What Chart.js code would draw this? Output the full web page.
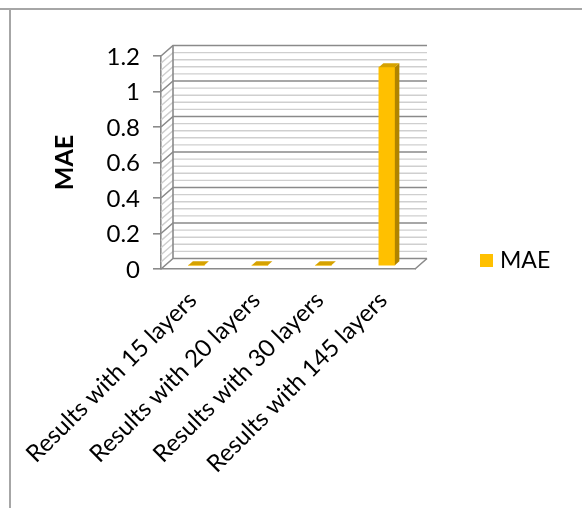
<!DOCTYPE html>
<html>
<head>
<meta charset="utf-8">
<script src="https://cdn.jsdelivr.net/npm/chart.js@4"></script>
<style>
  html, body { margin: 0; padding: 0; background: #ffffff; }
  #wrap { position: relative; width: 582px; height: 508px; }
</style>
</head>
<body>
<div id="wrap"><canvas id="chart" width="582" height="508"></canvas></div>
<script>
// Mean absolute error for each network depth
const categories = [
  'Results with 15 layers',
  'Results with 20 layers',
  'Results with 30 layers',
  'Results with 145 layers'
];
const maeValues = [0.004, 0.004, 0.004, 1.12];
const seriesLabel = 'MAE';
const yAxisTitle = 'MAE';
const yMin = 0;
const yMax = 1.2;
const yMajorStep = 0.2;
const yMinorStep = 0.04;

const FONT = "Lato, 'Liberation Sans', sans-serif";
const GOLD = '#FFC000';
const GOLD_TOP = '#D6A200';
const GOLD_SIDE = '#B08400';

// depth of the walls and of the columns (pseudo 3-D)
const WALL_DX = 12, WALL_DY = -10.5;
const COL_DX = 4.5, COL_DY = -4;
const COL_SHIFT_X = 3.6, COL_SHIFT_Y = -3;

// outer frame of the chart object
const framePlugin = {
  id: 'frame',
  beforeDraw(chart) {
    const ctx = chart.ctx;
    ctx.save();
    ctx.strokeStyle = '#a6a6a6';
    ctx.lineWidth = 2;
    ctx.beginPath();
    ctx.moveTo(0, 9); ctx.lineTo(chart.width, 9);
    ctx.moveTo(10, 9); ctx.lineTo(10, chart.height);
    ctx.stroke();
    ctx.restore();
  }
};

// back wall, side wall and floor with major / minor gridlines
const wallsPlugin = {
  id: 'walls',
  beforeDatasetsDraw(chart) {
    const ctx = chart.ctx;
    const { left, right, top, bottom } = chart.chartArea;
    const y = chart.scales.y;
    ctx.save();
    const nMinor = Math.round((yMax - yMin) / yMinorStep);
    const perMajor = Math.round(yMajorStep / yMinorStep);
    // minor lines first, major lines on top
    for (let pass = 0; pass < 2; pass++) {
      for (let i = 0; i <= nMinor; i++) {
        const isMajor = i % perMajor === 0;
        if ((pass === 1) !== isMajor) continue;
        const v = yMin + i * yMinorStep;
        const py = y.getPixelForValue(v);
        ctx.strokeStyle = isMajor ? '#8a8a8a' : '#cfcfcf';
        ctx.lineWidth = isMajor ? 1.6 : 1.4;
        ctx.beginPath();
        ctx.moveTo(left, py);
        ctx.lineTo(left + WALL_DX, py + WALL_DY);
        ctx.lineTo(right + WALL_DX, py + WALL_DY);
        ctx.stroke();
      }
    }
    ctx.strokeStyle = '#8a8a8a';
    ctx.lineWidth = 1.6;
    ctx.beginPath();
    ctx.moveTo(left + WALL_DX, top + WALL_DY);
    ctx.lineTo(left + WALL_DX, bottom + WALL_DY);
    ctx.moveTo(right, bottom);
    ctx.lineTo(right + WALL_DX, bottom + WALL_DY);
    ctx.stroke();
    ctx.restore();

    // columns sit a little behind the front edge of the floor
    ctx.save();
    ctx.translate(COL_SHIFT_X, COL_SHIFT_Y);
  },
  afterDatasetsDraw(chart) {
    const ctx = chart.ctx;
    const meta = chart.getDatasetMeta(0);
    meta.data.forEach((bar) => {
      const p = bar.getProps(['x', 'y', 'base', 'width'], true);
      const l = p.x - p.width / 2, r = p.x + p.width / 2;
      // right side face
      ctx.fillStyle = GOLD_SIDE;
      ctx.beginPath();
      ctx.moveTo(r, p.y);
      ctx.lineTo(r + COL_DX, p.y + COL_DY);
      ctx.lineTo(r + COL_DX, p.base + COL_DY);
      ctx.lineTo(r, p.base);
      ctx.closePath();
      ctx.fill();
      // top face
      ctx.fillStyle = GOLD_TOP;
      ctx.beginPath();
      ctx.moveTo(l, p.y);
      ctx.lineTo(l + COL_DX, p.y + COL_DY);
      ctx.lineTo(r + COL_DX, p.y + COL_DY);
      ctx.lineTo(r, p.y);
      ctx.closePath();
      ctx.fill();
    });
    ctx.restore();
  }
};

// legend entry to the right of the plot
const legendPlugin = {
  id: 'sideLegend',
  afterDraw(chart) {
    const ctx = chart.ctx;
    const ds = chart.data.datasets[0];
    ctx.save();
    ctx.fillStyle = ds.backgroundColor;
    ctx.fillRect(480, 254, 13, 13);
    ctx.fillStyle = '#000000';
    ctx.font = '23px ' + FONT;
    ctx.textBaseline = 'middle';
    ctx.textAlign = 'left';
    ctx.fillText(ds.label, 500, 261);
    ctx.restore();
  }
};

new Chart(document.getElementById('chart'), {
  type: 'bar',
  data: {
    labels: categories,
    datasets: [{
      label: seriesLabel,
      data: maeValues,
      backgroundColor: GOLD,
      borderWidth: 0,
      barThickness: 16,
      clip: false
    }]
  },
  options: {
    responsive: false,
    animation: false,
    layout: { padding: { left: 0, right: 167, top: 56, bottom: 0 } },
    plugins: {
      legend: { display: false },
      tooltip: { enabled: false }
    },
    scales: {
      x: {
        grid: { display: false },
        border: { display: true, color: '#8a8a8a', width: 1.6 },
        ticks: {
          autoSkip: false,
          maxRotation: 45,
          minRotation: 45,
          padding: 9,
          color: '#000000',
          font: { family: FONT, size: 24 }
        },
        afterFit(scale) { scale.height = 508 - 269; }
      },
      y: {
        min: yMin,
        max: yMax,
        ticks: {
          stepSize: yMajorStep,
          padding: 13,
          labelOffset: 1,
          color: '#000000',
          font: { family: FONT, size: 24 },
          callback: (v) => String(Number(v.toFixed(2)))
        },
        grid: {
          display: true,
          drawOnChartArea: false,
          drawTicks: true,
          tickLength: 8,
          color: '#8a8a8a',
          lineWidth: 1.6
        },
        border: { display: true, color: '#8a8a8a', width: 1.6 },
        title: {
          display: true,
          text: yAxisTitle,
          color: '#000000',
          font: { family: FONT, size: 25, weight: 'bold' },
          padding: { top: 50, bottom: 0 }
        },
        afterFit(scale) { scale.width = 161; }
      }
    }
  },
  plugins: [framePlugin, wallsPlugin, legendPlugin]
});
</script>
</body>
</html>
